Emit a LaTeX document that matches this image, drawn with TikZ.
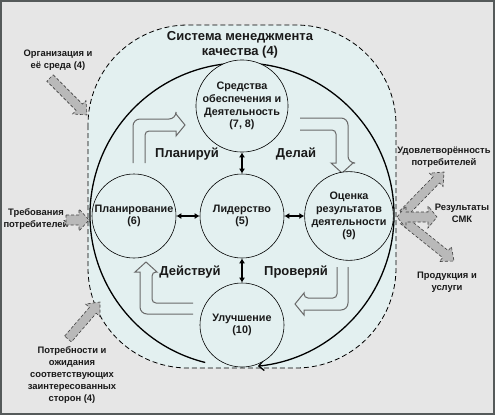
\documentclass[tikz,border=0pt]{standalone}
\usepackage{fontspec}
\setmainfont{Liberation Sans}
\usetikzlibrary{calc,arrows.meta}
\definecolor{bggray}{RGB}{230,230,230}
\definecolor{framegray}{RGB}{85,90,90}
\definecolor{qmsfill}{RGB}{227,240,240}
\definecolor{extfill}{RGB}{185,185,185}
\definecolor{pdcaline}{RGB}{105,105,105}
\definecolor{txt}{RGB}{25,25,25}

\newcommand\blockarrow[5]{% from, to, half shaft, half head, head length
  \coordinate (bh) at ($(#2)!#5!(#1)$);
  \draw[extarrow] ($(#1)!#3!90:(#2)$) -- ($(bh)!#3!-90:(#1)$) -- ($(bh)!#4!-90:(#1)$) -- (#2)
    -- ($(bh)!#4!90:(#1)$) -- ($(bh)!#3!90:(#1)$) -- ($(#1)!#3!-90:(#2)$) -- cycle;
}
\newcommand\dblblockarrow[5]{%
  \coordinate (bhb) at ($(#2)!#5!(#1)$);
  \coordinate (bha) at ($(#1)!#5!(#2)$);
  \draw[extarrow] (#1) -- ($(bha)!#4!90:(#2)$) -- ($(bha)!#3!90:(#2)$) -- ($(bhb)!#3!-90:(#1)$)
    -- ($(bhb)!#4!-90:(#1)$) -- (#2) -- ($(bhb)!#4!90:(#1)$) -- ($(bhb)!#3!90:(#1)$)
    -- ($(bha)!#3!-90:(#2)$) -- ($(bha)!#4!-90:(#2)$) -- cycle;
}

\begin{document}
\begin{tikzpicture}[x=1pt,y=-1pt,
  every node/.style={text=txt, align=center, inner sep=0pt},
  qms/.style={fill=qmsfill, draw=black, dash pattern=on 5pt off 3pt, line width=0.8pt, rounded corners=100pt},
  bigcircle/.style={draw=black, line width=1.3pt, -{Straight Barb[length=5pt,width=10pt]}},
  stage/.style={circle, draw=black, line width=0.6pt, fill=qmsfill, minimum size=84pt,
    font=\fontsize{10.8}{12.8}\selectfont\bfseries},
  link/.style={line width=1.3pt, {Latex[length=5pt,width=6pt]}-{Latex[length=5pt,width=6pt]}},
  pdca/.style={draw=pdcaline, line width=1pt, fill=qmsfill},
  pdcatext/.style={font=\fontsize{13}{15}\selectfont\bfseries},
  titletext/.style={font=\fontsize{13}{14.5}\selectfont\bfseries},
  exttext/.style={font=\fontsize{9.4}{11.8}\selectfont\bfseries},
  extarrow/.style={fill=extfill, draw=black!75, dash pattern=on 3pt off 2pt, line width=0.6pt}
]
\useasboundingbox (0,0) rectangle (495,415);
\fill[bggray] (0,0) rectangle (495,415);
\draw[framegray, line width=2pt] (1,1) rectangle (494,414);

% QMS region
\draw[qms] (88,25) rectangle (396,368);
\node[titletext] (title) at (240,45) {Система менеджмента\\качества (4)};

% big cycle
\coordinate (cen) at (242,215);
\draw[bigcircle] ($(cen)+(104:152)$) arc[start angle=104, end angle=444, radius=152];

% PDCA block arrows
\draw[pdca] (133,163) [rounded corners=7pt] -- (133,119) -- (176,119) [sharp corners] -- (176,114) -- (185,125) -- (176,136) -- (176,131) [rounded corners=4pt] -- (145,131) -- (145,163);
\draw[pdca] (300,118) [rounded corners=7pt] -- (348,118) -- (348,163) [sharp corners] -- (353,163) -- (342,173) -- (331,163) -- (336,163) [rounded corners=4pt] -- (336,130) -- (300,130);
\draw[pdca] (337,267) [rounded corners=4pt] -- (337,298) -- (304,298) [sharp corners] -- (304,293) -- (295,304) -- (304,315) -- (304,310) [rounded corners=7pt] -- (348,310) -- (348,267);
\draw[pdca] (193,303) [rounded corners=4pt] -- (152,303) -- (152,272) [sharp corners] -- (157,272) -- (146,262) -- (135,272) -- (140,272) [rounded corners=7pt] -- (140,314) -- (193,314);

\node[pdcatext] (plantxt) at (187,154) {Планируй};
\node[pdcatext] (dotxt) at (296,154) {Делай};
\node[pdcatext] (acttxt) at (190,272) {Действуй};
\node[pdcatext] (checktxt) at (296,272) {Проверяй};

% stages
\node[stage] (res78) at (242,106) {Средства\\обеспечения и\\Деятельность\\(7, 8)};
\node[stage] (plan) at (134,216) {Планирование\\(6)};
\node[stage] (lead) at (242,216) {Лидерство\\(5)};
\node[stage] (eval) at (349,216) {Оценка\\результатов\\деятельности\\(9)};
\node[stage] (impr) at (242,325) {Улучшение\\(10)};

\draw[link] (res78) -- (lead);
\draw[link] (plan) -- (lead);
\draw[link] (lead) -- (eval);
\draw[link] (lead) -- (impr);

% external inputs
\node[exttext] (org) at (58,60) {Организация и\\её среда (4)};
\node[exttext] (req) at (36,219) {Требования\\потребителей};
\node[exttext] (needs) at (72,375) {Потребности и\\ожидания\\соответствующих\\заинтересованных\\сторон (4)};
\coordinate (orgA) at (50,78);  \coordinate (orgB) at (87,115);
\coordinate (reqA) at (66,220); \coordinate (reqB) at (89,220);
\coordinate (needA) at (68,339); \coordinate (needB) at (100,302);
\blockarrow{orgA}{orgB}{4.5pt}{9.5pt}{11pt}
\blockarrow{reqA}{reqB}{5pt}{11pt}{10pt}
\blockarrow{needA}{needB}{4.5pt}{9.5pt}{11pt}

% outputs
\node[exttext] (sat) at (444,157) {Удовлетворённость\\потребителей};
\node[exttext] (res) at (462,213) {Результаты\\СМК};
\node[exttext] (prod) at (447,282) {Продукция и\\услуги};
\coordinate (outO) at (403,214); \coordinate (outS) at (444,172);
\coordinate (outP0) at (403,220); \coordinate (outP) at (454,261);
\coordinate (outL) at (397,217); \coordinate (outR) at (437,217);
\blockarrow{outO}{outS}{4.5pt}{9.5pt}{11pt}
\blockarrow{outP0}{outP}{4.5pt}{9.5pt}{11pt}
\dblblockarrow{outL}{outR}{5pt}{11pt}{9pt}
\end{tikzpicture}
\end{document}
